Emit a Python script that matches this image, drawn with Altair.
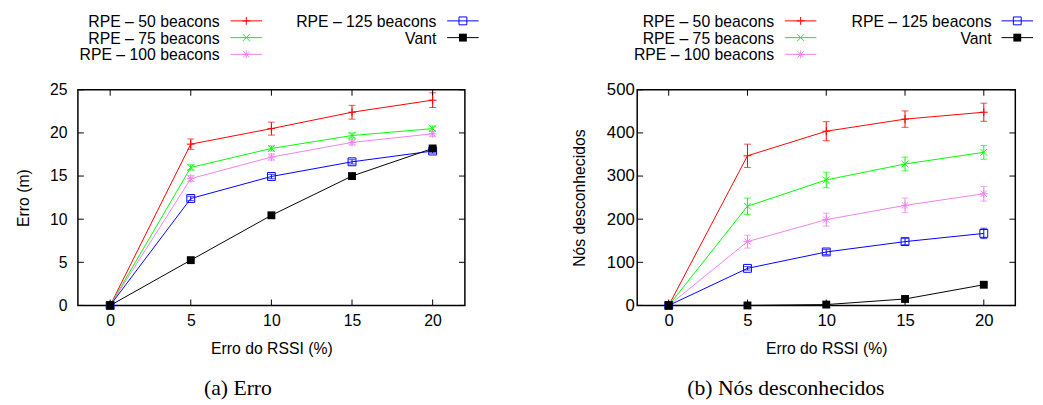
import altair as alt
import pandas as pd

x_vals = [0, 5, 10, 15, 20]
series = ["RPE – 50 beacons", "RPE – 75 beacons", "RPE – 100 beacons",
          "RPE – 125 beacons", "Vant"]
colors = ["#ff0000", "#00ff00", "#ee82ee", "#0000ff", "#000000"]

# (a) Erro (m)
erro_mean = [
    [0, 18.7, 20.5, 22.4, 23.8],
    [0, 16.0, 18.2, 19.7, 20.5],
    [0, 14.7, 17.2, 18.9, 19.9],
    [0, 12.4, 14.95, 16.65, 17.9],
    [0, 5.25, 10.45, 15.0, 18.2],
]
erro_ci = [
    [0, 0.6, 0.75, 0.8, 0.85],
    [0, 0.3, 0.3, 0.3, 0.3],
    [0, 0.35, 0.35, 0.3, 0.3],
    [0, 0.25, 0.25, 0.25, 0.25],
    [0, 0, 0, 0, 0],
]
# (b) Nós desconhecidos
nos_mean = [
    [0, 347, 404, 432, 448],
    [0, 230, 291, 328, 355],
    [0, 148, 199, 232, 259],
    [0, 86, 124, 148, 167],
    [0, 0, 2, 15, 48],
]
nos_ci = [
    [0, 27, 22, 19, 21],
    [0, 19, 18, 16, 16],
    [0, 15, 15, 17, 17],
    [0, 4, 6, 7, 12],
    [0, 0, 0, 0, 0],
]

shapes = [
    ("M-1,0L1,0M0,-1L0,1", False, 64),
    ("M-1,-1L1,1M-1,1L1,-1", False, 49),
    ("M-1,0L1,0M0,-1L0,1M-0.8,-0.8L0.8,0.8M-0.8,0.8L0.8,-0.8", False, 64),
    ("square", False, 64),
    ("square", True, 64),
]

FONT = "Liberation Sans"
H = 219


def panel(means, cis, ydom, yticks, ytitle, w, caption, cap_dx,
          lab_pad, title_pad, lab_size, leg_text_x, leg_sample_x):
    xs = alt.Scale(domain=[-2, 22], nice=False, zero=False)
    ys = alt.Scale(domain=ydom, nice=False, zero=False)
    layers = []
    for i, name in enumerate(series):
        df = pd.DataFrame({
            "x": x_vals, "y": means[i],
            "lo": [m - c for m, c in zip(means[i], cis[i])],
            "hi": [m + c for m, c in zip(means[i], cis[i])],
        })
        col = colors[i]
        shape, filled, size = shapes[i]
        base = alt.Chart(df)
        line = base.mark_line(color=col, strokeWidth=1).encode(
            x=alt.X("x:Q", scale=xs,
                    axis=alt.Axis(values=x_vals, title="Erro do RSSI (%)",
                                  labelPadding=7, titlePadding=13,
                                  labelFontSize=lab_size)),
            y=alt.Y("y:Q", scale=ys,
                    axis=alt.Axis(values=yticks, title=ytitle,
                                  labelPadding=lab_pad, titlePadding=title_pad,
                                  labelFontSize=lab_size)),
        )
        rule = base.mark_rule(color=col, strokeWidth=1).encode(
            x="x:Q", y="lo:Q", y2="hi:Q")
        cap_lo = base.mark_tick(color=col, orient="horizontal", size=7,
                                thickness=1).encode(x="x:Q", y="lo:Q")
        cap_hi = base.mark_tick(color=col, orient="horizontal", size=7,
                                thickness=1).encode(x="x:Q", y="hi:Q")
        pts = base.mark_point(shape=shape, filled=filled, size=size,
                              color=col, strokeWidth=1, opacity=1).encode(
            x="x:Q", y="y:Q")
        if any(c > 0 for c in cis[i]):
            layers += [line, rule, cap_lo, cap_hi, pts]
        else:
            layers += [line, pts]

    # inward ticks (gnuplot style, mirrored)
    xt = pd.DataFrame({"x": x_vals})
    yt = pd.DataFrame({"y": yticks})
    layers.append(alt.Chart(xt).mark_rule(color="black", strokeWidth=1).encode(
        x="x:Q", y=alt.value(0), y2=alt.value(6)))
    layers.append(alt.Chart(xt).mark_rule(color="black", strokeWidth=1).encode(
        x="x:Q", y=alt.value(H), y2=alt.value(H - 6)))
    layers.append(alt.Chart(yt).mark_rule(color="black", strokeWidth=1).encode(
        y="y:Q", x=alt.value(0), x2=alt.value(6)))
    layers.append(alt.Chart(yt).mark_rule(color="black", strokeWidth=1).encode(
        y="y:Q", x=alt.value(w), x2=alt.value(w - 6)))

    # key (gnuplot style: text then sample)
    one = pd.DataFrame({"k": [0]})
    for i, name in enumerate(series):
        c = 0 if i < 3 else 1
        r = i if i < 3 else i - 3
        ty = -64 + r * 17
        ly = -70 + r * 17
        col = colors[i]
        shape, filled, size = shapes[i]
        layers.append(alt.Chart(one).mark_text(
            align="right", baseline="alphabetic", font=FONT, fontSize=16,
            color="black").encode(
            x=alt.value(leg_text_x[c]), y=alt.value(ty), text=alt.value(name)))
        layers.append(alt.Chart(one).mark_rule(color=col, strokeWidth=1).encode(
            x=alt.value(leg_sample_x[c]), x2=alt.value(leg_sample_x[c] + 32),
            y=alt.value(ly)))
        layers.append(alt.Chart(one).mark_point(
            shape=shape, filled=filled, size=size, color=col, strokeWidth=1,
            opacity=1).encode(
            x=alt.value(leg_sample_x[c] + 16), y=alt.value(ly)))

    return alt.layer(*layers).properties(
        width=w, height=H,
        title=alt.TitleParams(caption, orient="bottom", font="Liberation Serif",
                              fontSize=22, fontWeight="normal", anchor="middle",
                              frame="group", dx=cap_dx, offset=22, color="black"),
    )


left = panel(erro_mean, erro_ci, [0, 25], [0, 5, 10, 15, 20, 25], "Erro (m)",
             393, "(a) Erro", -34, 11, 18, 16, [144, 364], [155, 375])
right = panel(nos_mean, nos_ci, [0, 500], [0, 100, 200, 300, 400, 500],
              "Nós desconhecidos", 384, "(b) Nós desconhecidos", -41, 3, 19, 17,
              [139, 360], [150, 370])

chart = alt.hconcat(left, right, spacing=91).properties(
    padding={"left": 7, "top": 2, "right": 0, "bottom": 0}
).configure_axis(
    labelFont=FONT, labelFontSize=16, labelColor="black",
    titleFont=FONT, titleFontSize=16, titleFontWeight="normal",
    titleColor="black", domain=False, ticks=False, grid=False,
).configure_view(stroke="black", strokeWidth=1.5)

chart.save("out.html", embed_options={"renderer": "svg", "actions": False})
